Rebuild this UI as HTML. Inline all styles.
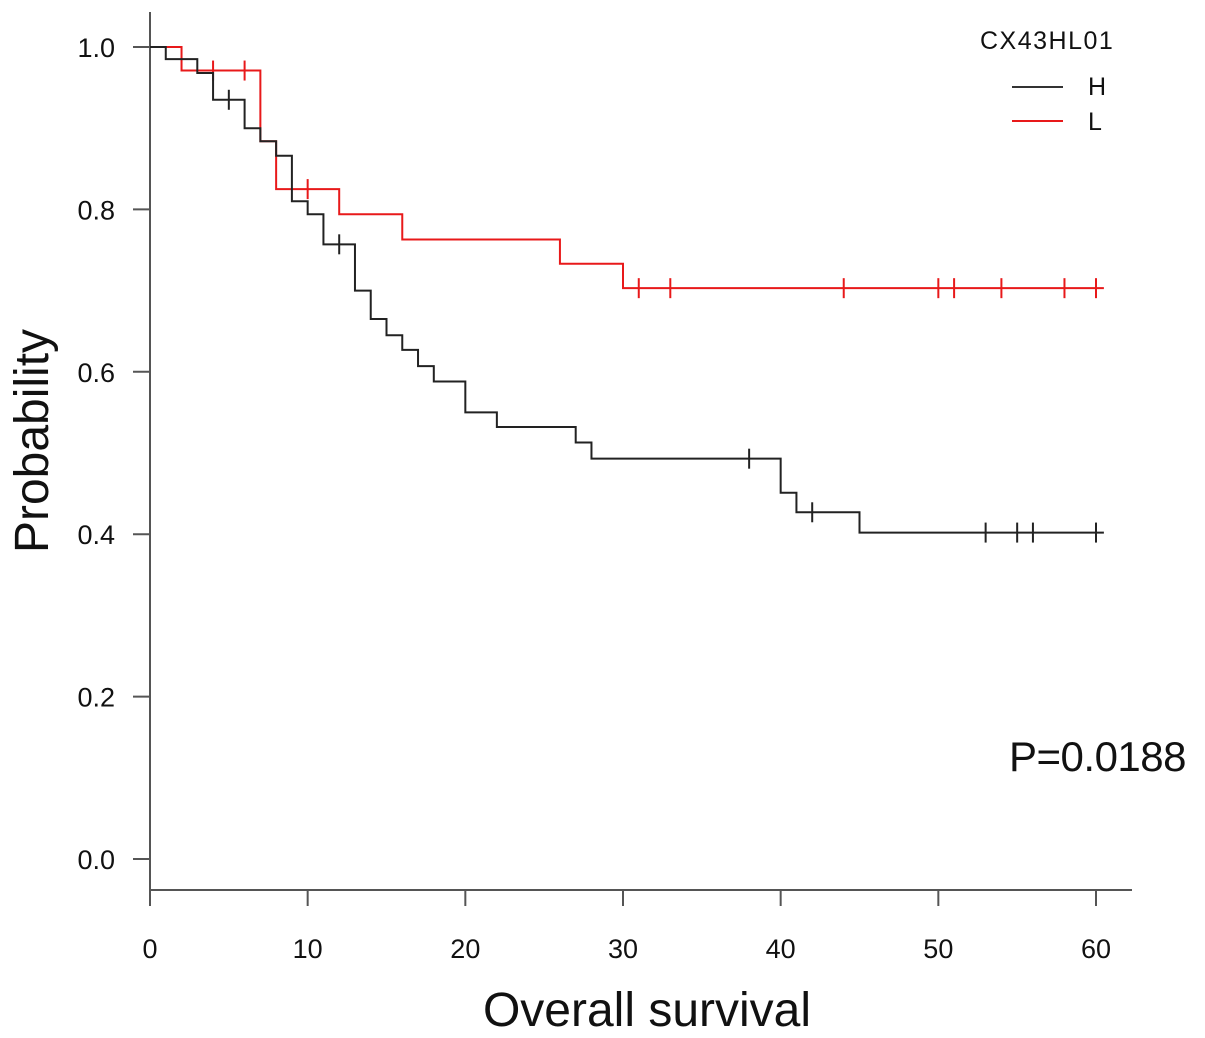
<!DOCTYPE html>
<html><head><meta charset="utf-8"><style>
html,body{margin:0;padding:0;background:#fff;}
svg{display:block;font-family:"Liberation Sans",Arial,sans-serif;}
</style></head><body>
<svg id="chart" width="1205" height="1038" viewBox="0 0 1205 1038" xmlns="http://www.w3.org/2000/svg">
<g id="axes"></g>
<g id="series"></g>
<text x="647" y="1026" font-size="48" text-anchor="middle" fill="#111">Overall survival</text>
<text transform="translate(48,441) rotate(-90)" font-size="48" text-anchor="middle" fill="#111">Probability</text>
<g>
<text x="980" y="49" font-size="25" letter-spacing="1.5" fill="#111">CX43HL01</text>
<line x1="1012" y1="87" x2="1063" y2="87" stroke="#333" stroke-width="2"/>
<text x="1088" y="95" font-size="25" fill="#111">H</text>
<line x1="1012" y1="121" x2="1063" y2="121" stroke="#e8191a" stroke-width="2"/>
<text x="1088" y="130" font-size="25" fill="#111">L</text>
</g>
<text x="1009" y="771" font-size="42" letter-spacing="-0.5" fill="#111">P=0.0188</text>
</svg>
<script>
const xTicks=[0,10,20,30,40,50,60];
const yTicks=[0.0,0.2,0.4,0.6,0.8,1.0];
const hTimes=[0,1,3,4,6,7,8,9,10,11,13,14,15,16,17,18,20,22,27,28,40,41,45];
const hSurv=[1.0,0.985,0.968,0.935,0.90,0.884,0.866,0.81,0.794,0.757,0.70,0.665,0.645,0.627,0.607,0.588,0.55,0.532,0.513,0.493,0.451,0.427,0.402];
const hCensor=[5,12,38,42,53,55,56,60];
const lTimes=[0,2,7,8,12,16,26,30];
const lSurv=[1.0,0.971,0.884,0.825,0.794,0.763,0.733,0.703];
const lCensor=[4,6,10,31,33,44,50,51,54,58,60];
const xEnd=60.5;

const sx=v=>150+v*(1096-150)/60;
const sy=v=>859-v*(859-47);
const NS='http://www.w3.org/2000/svg';
function mk(tag,attrs,parent){const e=document.createElementNS(NS,tag);for(const k in attrs)e.setAttribute(k,attrs[k]);parent.appendChild(e);return e;}
const axes=document.getElementById('axes');
const ya=mk('line',{x1:150,y1:12,x2:150,y2:891,stroke:'#555','stroke-width':2},axes);


const xa=mk('line',{x1:149,y1:890,x2:1132,y2:890,stroke:'#555','stroke-width':2},axes);


yTicks.forEach(v=>{
  const t=mk('line',{x1:133,y1:sy(v),x2:150,y2:sy(v),stroke:'#555','stroke-width':2},axes);
  
  
  const l=mk('text',{x:115,y:sy(v)+10,'font-size':27,'text-anchor':'end',fill:'#111'},axes);
  l.textContent=v.toFixed(1);
  
  
});
xTicks.forEach(v=>{
  const t=mk('line',{x1:sx(v),y1:890,x2:sx(v),y2:906,stroke:'#555','stroke-width':2},axes);
  
  
  const l=mk('text',{x:sx(v),y:958,'font-size':27,'text-anchor':'middle',fill:'#111'},axes);
  l.textContent=v;
  
  
});
const series=document.getElementById('series');
function survAt(times,surv,t){let s=surv[0];for(let i=0;i<times.length;i++)if(times[i]<=t)s=surv[i];return s;}
function draw(times,surv,cens,color,name){
  let d='M'+sx(times[0])+','+sy(surv[0]);
  for(let i=1;i<times.length;i++){d+=' H'+sx(times[i])+' V'+sy(surv[i]);}
  d+=' H'+sx(xEnd);
  const p=mk('path',{d:d,fill:'none',stroke:color,'stroke-width':2},series);
  
  
  cens.forEach(c=>{
    const y=sy(survAt(times,surv,c));
    const m=mk('line',{x1:sx(c),y1:y-10,x2:sx(c),y2:y+10,stroke:color,'stroke-width':2},series);
    
    
  });
}
draw(lTimes,lSurv,lCensor,'#e8191a','group-l');
draw(hTimes,hSurv,hCensor,'#222','group-h');
</script>
</body></html>
